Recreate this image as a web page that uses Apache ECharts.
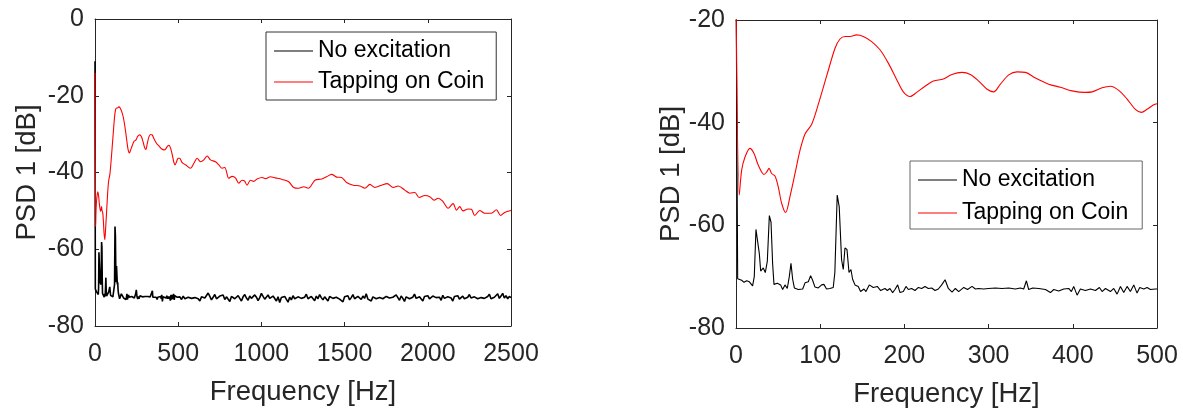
<!DOCTYPE html>
<html>
<head>
<meta charset="utf-8">
<title>PSD</title>
<script src="https://cdn.jsdelivr.net/npm/echarts@6/dist/echarts.min.js"></script>
<style>
html,body{margin:0;padding:0;background:#fff;}
#chart{width:1183px;height:413px;}
</style>
</head>
<body>
<div id="chart"></div>
<script>
// 图例名称
let names = ['No excitation', 'Tapping on Coin']

// 红线 0-500Hz [Hz, dB]
let redLow = [[0,-14],[3.9,-54.1],[6.7,-49.3],[10.7,-46.7],[16.6,-45.0],[21.4,-46.0],[26.5,-48.3],[33.3,-50.1],[36.5,-49.6],[39.2,-48.9],
    [42.3,-49.9],[46.3,-50.4],[50.2,-52.5],[54.2,-55.7],[59,-57.5],[64.1,-54.4],[70.1,-49.9],[76,-45.4],[82,-42.2],[89.9,-40.3],
    [97.8,-36.4],[107.7,-30.9],[117.6,-25.5],[123.5,-23.7],[129.5,-23.2],[135.4,-23.2],[143.3,-22.9],[151.2,-23.2],[161.1,-24.2],[171,-25.8],
    [180.9,-28.4],[190.8,-31.6],[198.7,-34.0],[206.7,-34.9],[214.6,-34.1],[224.5,-32.9],[234.4,-31.9],[246.3,-31.5],[256.4,-30.6],[268.5,-30.2],
    [278.3,-30.6],[288.2,-31.9],[298.2,-33.5],[306,-34.0],[314,-32.5],[323.9,-30.7],[333.8,-30.1],[343.7,-30.2],[355.6,-31.3],[371.4,-32.5],
    [385.3,-33.1],[399.1,-33.8],[415,-34.1],[422.9,-34.0],[434.8,-33.2],[444.7,-32.9],[454.6,-33.7],[464.5,-35.4],[474.3,-37.4],[481.5,-38.0],
    [488.2,-37.4],[496.1,-36.5],[500,-36.3]]

// 红线 500-2500Hz
let redHigh = [[508,-36.3],[524,-37.4],[544,-38.0],[574,-38.9],[594,-37.6],[614,-36.3],[634,-37.2],[654,-36.7],[674,-35.7],[694,-36.7],
    [724,-37.2],[744,-38.0],[764,-38.9],[780,-38.7],[804,-41.5],[824,-41.0],[844,-41.4],[864,-42.8],[884,-42.0],[898,-42.2],
    [914,-43.3],[934,-42.0],[954,-42.3],[974,-41.7],[1004,-41.3],[1024,-41.6],[1054,-41.1],[1084,-41.4],[1124,-41.8],[1164,-42.4],
    [1194,-43.9],[1224,-44.1],[1254,-43.7],[1282,-44.1],[1322,-42.0],[1362,-41.7],[1392,-41.1],[1422,-40.5],[1452,-41.2],[1482,-41.3],
    [1512,-42.6],[1552,-43.3],[1592,-43.5],[1622,-44.1],[1652,-43.1],[1682,-43.9],[1722,-43.3],[1756,-42.9],[1792,-43.9],[1822,-43.5],
    [1862,-44.6],[1892,-45.4],[1922,-45.2],[1948,-46.5],[1982,-46.0],[2012,-46.3],[2038,-47.2],[2062,-46.7],[2088,-47.4],[2122,-49.3],
    [2152,-48.1],[2172,-49.8],[2192,-48.9],[2212,-50.0],[2242,-49.5],[2262,-49.6],[2282,-51.2],[2312,-49.9],[2342,-50.6],[2382,-50.6],
    [2412,-49.7],[2438,-51.2],[2462,-50.4],[2500,-49.9]]

// 黑线 0-500Hz
let blackLow = [[0,-11],[2,-70.4],[3.9,-70.5],[6.7,-70.7],[9.5,-71.1],[12.7,-70.8],[15.9,-71.0],[19.7,-71.8],[21.7,-70.0],[23.7,-60.8],
    [25.7,-60.7],[27.7,-65.5],[29.3,-68.9],[32.4,-68.3],[34.8,-69.2],[37.2,-67.0],[39.6,-58.1],[41.6,-59.4],[43.5,-67.5],[45.1,-71.5],
    [49.1,-71.3],[53,-71.6],[55.4,-72.5],[58.2,-71.6],[60.9,-72.3],[63.3,-70.0],[65.3,-67.4],[67.3,-70.5],[69.3,-72.2],[74,-72.5],
    [79.2,-72.4],[82,-71.2],[85.9,-71.0],[88.6,-69.8],[91,-70.7],[93.7,-72.0],[97.7,-72.2],[101.7,-71.6],[104.4,-71.5],[107.5,-72.4],
    [111.5,-72.3],[115.5,-72.1],[117.4,-69.2],[120.2,-54.1],[122.6,-56.4],[125.4,-66.7],[127.4,-68.6],[129.4,-64.4],[131.8,-64.7],[134.2,-69.2],
    [136.5,-68.6],[138.5,-70.5],[141.3,-71.6],[145.2,-71.9],[148,-72.9],[152,-72.4],[154.3,-72.9],[158.3,-71.6],[163,-72.1],[167.8,-71.9],
    [171.8,-72.7],[176.9,-72.3],[179.7,-72.7],[182.8,-72.3],[186,-73.1],[188.8,-72.5],[192,-71.6],[194.8,-73.1],[198.7,-72.9],[201.9,-71.9],
    [204.7,-72.5],[208.6,-72.3],[212.6,-72.7],[216.6,-72.1],[220.5,-72.3],[224.5,-71.9],[228.4,-72.3],[232.4,-72.2],[236.4,-72.7],[240.3,-72.4],
    [244.3,-71.6],[248.3,-70.6],[252.2,-72.3],[256.6,-73.0],[260.5,-72.3],[264.5,-72.9],[270.5,-72.1],[275,-72.5],[280.3,-71.9],[284.3,-72.4],
    [288.2,-72.3],[294,-72.4],[300,-72.3],[308,-72.2],[315.9,-72.3],[323.9,-72.2],[331.8,-72.4],[337.7,-72.2],[341.7,-72.4],[344.9,-70.8],
    [347.6,-72.5],[352.5,-72.2],[359.6,-72.3],[367.5,-72.5],[373.4,-73.1],[377.4,-72.5],[383.3,-72.8],[389.2,-72.4],[395.2,-72.3],[398.3,-72.9],
    [401.1,-71.9],[405.1,-73.6],[409,-72.4],[415,-72.7],[421,-72.4],[426.9,-72.7],[431.6,-72.1],[434.8,-72.9],[438.8,-72.3],[444.7,-72.9],
    [448.6,-72.3],[452.6,-73.4],[456.6,-71.9],[460.5,-73.1],[464.5,-71.9],[468.4,-72.9],[472.4,-71.6],[476.3,-73.2],[479.5,-72.1],[484.3,-72.4],
    [488.2,-72.1],[492.2,-72.5],[498.1,-72.4],[500,-72.4]]

// 黑线 510-2500Hz, 每10Hz一个值
let blackHighStart = 510
let blackHighStep = 10
let blackHigh = [
    -72.4,-73.1,-72.2,-72.9,-73.4,-72.5,-72.0,-72.8,-73.3,-72.6,
    -72.1,-72.9,-73.5,-72.4,-71.9,-72.7,-73.0,-71.4,-72.3,-73.2,
    -72.5,-71.8,-72.9,-73.4,-72.2,-72.7,-71.9,-73.1,-72.4,-72.8,
    -73.6,-72.3,-72.0,-72.9,-73.2,-72.1,-72.6,-73.5,-72.4,-71.8,
    -72.7,-73.3,-72.2,-72.8,-73.0,-71.9,-72.5,-73.4,-72.6,-71.5,
    -72.3,-73.0,-72.6,-71.9,-72.8,-73.3,-72.2,-72.7,-73.5,-72.4,
    -73.9,-72.6,-73.1,-72.3,-72.8,-73.8,-72.5,-73.2,-72.1,-72.9,
    -73.4,-72.4,-72.0,-72.8,-73.3,-72.5,-71.7,-72.9,-73.1,-72.3,
    -72.7,-73.4,-72.2,-72.9,-71.8,-72.6,-73.2,-72.4,-72.9,-73.5,
    -72.3,-71.9,-72.8,-73.3,-72.5,-72.0,-73.0,-72.6,-73.7,-72.4,
    -72.8,-72.1,-73.2,-72.6,-71.8,-72.9,-73.4,-72.3,-72.7,-73.1,
    -72.2,-72.8,-71.6,-73.0,-72.5,-73.5,-72.4,-72.0,-72.9,-73.3,
    -72.6,-72.1,-72.9,-73.4,-72.3,-71.8,-72.7,-73.2,-72.5,-72.9,
    -71.9,-72.6,-73.3,-72.2,-72.8,-73.6,-72.4,-72.0,-72.9,-73.1,
    -72.5,-71.7,-72.8,-73.2,-72.4,-72.9,-73.5,-72.3,-72.7,-72.1,
    -72.9,-73.4,-72.2,-71.8,-72.6,-73.1,-72.5,-73.3,-72.0,-72.8,
    -73.2,-72.4,-71.9,-72.7,-73.5,-72.3,-72.8,-72.1,-73.0,-72.6,
    -72.2,-72.9,-73.4,-72.5,-71.8,-72.7,-73.2,-72.4,-72.0,-72.9,
    -73.3,-72.6,-72.1,-72.8,-73.0,-72.3,-71.7,-72.9,-73.4,-72.5,
    -72.4,-71.6,-72.8,-72.2,-71.5,-72.7,-72.1,-72.9,-72.3,-72.6]

// 坐标轴范围
let leftX = {min: 0, max: 2500, interval: 500}
let rightX = {min: 0, max: 500, interval: 100}
let leftY = {min: -80, max: 0, interval: 20}
let rightY = {min: -80, max: -20, interval: 20}

let font = "'Liberation Sans', Arial, sans-serif"
let axisColor = '#262626'

// 拼接左图黑线
let blackLeft = blackLow.slice()
blackHigh.forEach((v, i) => {
    blackLeft.push([blackHighStart + i * blackHighStep, v])
})
let redLeft = redLow.concat(redHigh)

// 刻度文字不要千分位
let plain = v => String(v)

function xAxisPair(gridIndex, range){
    let base = {
        type: 'value', gridIndex: gridIndex, min: range.min, max: range.max, interval: range.interval,
        axisLine: {show: true, onZero: false, lineStyle: {color: axisColor, width: 1}},
        axisTick: {show: true, inside: true, length: 4, lineStyle: {color: axisColor}},
        splitLine: {show: false}
    }
    return [
        {...base, position: 'bottom', name: 'Frequency [Hz]', nameLocation: 'middle', nameGap: 52,
            nameTextStyle: {fontSize: 27.5, color: axisColor, fontFamily: font},
            axisLabel: {fontSize: 25, color: axisColor, fontFamily: font, margin: 16, formatter: plain}},
        {...base, position: 'top', axisLabel: {show: false}}
    ]
}

function yAxisPair(gridIndex, range, gap){
    let base = {
        type: 'value', gridIndex: gridIndex, min: range.min, max: range.max, interval: range.interval,
        axisLine: {show: true, onZero: false, lineStyle: {color: axisColor, width: 1}},
        axisTick: {show: true, inside: true, length: 4, lineStyle: {color: axisColor}},
        splitLine: {show: false}
    }
    return [
        {...base, position: 'left', name: 'PSD 1 [dB]', nameLocation: 'middle', nameGap: gap,
            nameTextStyle: {fontSize: 27.5, color: axisColor, fontFamily: font},
            axisLabel: {fontSize: 25, color: axisColor, fontFamily: font, margin: 11, formatter: plain}},
        {...base, position: 'right', axisLabel: {show: false}}
    ]
}

function legendBox(left, top, gap, pad, border){
    return {
        data: names, orient: 'vertical', left: left, top: top,
        icon: 'rect', itemWidth: 39, itemHeight: 1.2, itemGap: gap,
        padding: pad, borderColor: border, borderWidth: 1, backgroundColor: '#fff',
        textStyle: {fontSize: 23, color: '#000', fontFamily: font, lineHeight: 28},
        selectedMode: false
    }
}

function lineSeries(name, color, data, xi, yi, smooth, width){
    return {
        name: name, type: 'line', data: data, xAxisIndex: xi, yAxisIndex: yi,
        showSymbol: false, symbol: 'none', smooth: smooth, animation: false,
        lineStyle: {color: color, width: width}, itemStyle: {color: color}
    }
}

let mychart = echarts.init(document.getElementById('chart'))
mychart.setOption({
    animation: false,
    textStyle: {fontFamily: font},
    grid: [
        {left: 95, right: 672, top: 19, bottom: 87},
        {left: 736, right: 26, top: 20, bottom: 82}
    ],
    xAxis: [...xAxisPair(0, leftX), ...xAxisPair(1, rightX)],
    yAxis: [...yAxisPair(0, leftY, 54), ...yAxisPair(1, rightY, 49)],
    legend: [
        legendBox(266, 32, 3, [5, 12, 4, 8], '#333'),
        legendBox(910, 161, 5, [5, 14, 2, 8], '#666')
    ],
    series: [
        lineSeries(names[0], '#000000', blackLeft, 0, 0, false, 1.6),
        lineSeries(names[1], '#ff0000', redLeft, 0, 0, 0.3, 1.1),
        lineSeries(names[0], '#000000', blackLow, 2, 2, false, 1.1),
        lineSeries(names[1], '#ff0000', redLow, 2, 2, 0.3, 1.1)
    ]
})
</script>
</body>
</html>
